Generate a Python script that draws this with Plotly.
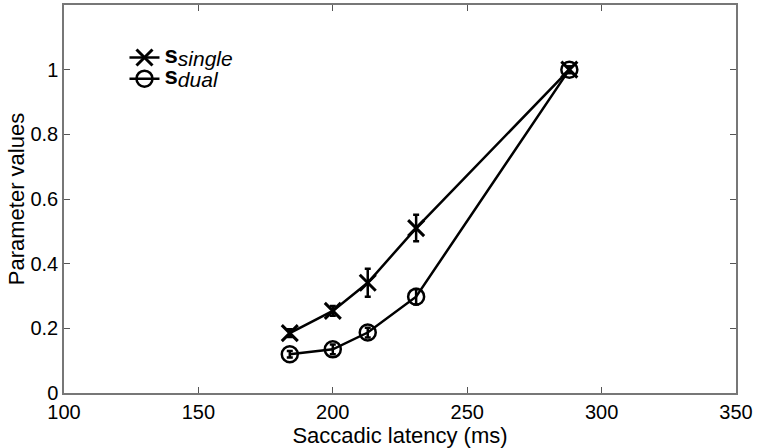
import plotly.graph_objects as go

# Data
latency_single = [184, 200, 213, 231, 288]
s_single = [0.185, 0.254, 0.341, 0.510, 1.0]
s_single_err = [0.012, 0.015, 0.043, 0.041, 0.01]

latency_dual = [184, 200, 213, 231, 288]
s_dual = [0.120, 0.135, 0.187, 0.298, 1.0]
s_dual_err = [0.010, 0.015, 0.015, 0.024, 0.01]

x_ticks = [100, 150, 200, 250, 300, 350]
y_ticks = [0, 0.2, 0.4, 0.6, 0.8, 1]
y_tick_labels = ["0", "0.2", "0.4", "0.6", "0.8", "1"]

FONT = "Liberation Sans, Arial, sans-serif"


def legend_label(sub):
    return ("<b><span style='font-size:24px'>s</span></b>"
            "<sub><i><span style='font-size:21px'>" + sub + "</span></i></sub>")


fig = go.Figure()

fig.add_trace(go.Scatter(
    x=latency_single, y=s_single,
    mode="lines+markers",
    name=legend_label("single"),
    line=dict(color="black", width=2.5),
    marker=dict(symbol="x-thin", size=16, color="black",
                line=dict(color="black", width=3)),
    error_y=dict(type="data", array=s_single_err, visible=True,
                 color="black", thickness=2.5, width=3),
))

fig.add_trace(go.Scatter(
    x=latency_dual, y=s_dual,
    mode="lines+markers",
    name=legend_label("dual"),
    line=dict(color="black", width=2.5),
    marker=dict(symbol="circle-open", size=16, color="black",
                line=dict(color="black", width=2.5)),
    error_y=dict(type="data", array=s_dual_err, visible=True,
                 color="black", thickness=2.5, width=3),
))

fig.update_layout(
    width=758, height=448,
    margin=dict(l=64, r=22, t=5, b=55, autoexpand=False),
    paper_bgcolor="white", plot_bgcolor="white",
    font=dict(family=FONT, color="black", size=20),
    showlegend=True,
    legend=dict(x=0.09, y=0.905, xanchor="left", yanchor="top",
                bgcolor="rgba(0,0,0,0)", font=dict(size=14, family=FONT),
                itemwidth=30),
    hovermode=False,
)

fig.update_xaxes(
    range=[100, 350], tickvals=x_ticks, ticktext=[str(v) for v in x_ticks],
    ticks="inside", ticklen=6, tickcolor="#555", tickwidth=1,
    showline=True, linecolor="#777", linewidth=1.5, mirror="ticks",
    showgrid=False, zeroline=False,
    title=dict(text="Saccadic latency (ms)", font=dict(size=22), standoff=0),
    tickfont=dict(size=20), automargin=False,
)
fig.update_yaxes(
    range=[0, 1.2], tickvals=y_ticks, ticktext=y_tick_labels,
    ticks="inside", ticklen=6, tickcolor="#555", tickwidth=1,
    showline=True, linecolor="#777", linewidth=1.5, mirror="ticks",
    showgrid=False, zeroline=False,
    title=dict(text="Parameter values", font=dict(size=22), standoff=0),
    tickfont=dict(size=20), automargin=False,
)

fig.write_html("out.html",
               config={"displayModeBar": False},
               post_script="document.body.style.margin='0';")
